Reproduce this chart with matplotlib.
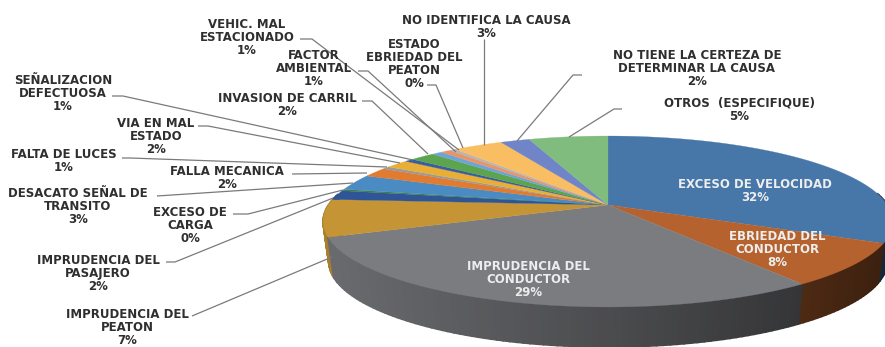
import numpy as np
import matplotlib
matplotlib.use("Agg")
import matplotlib.pyplot as plt
from matplotlib.colors import to_rgb

# ---- data (clockwise from 12 o'clock)
names = ["EXCESO DE VELOCIDAD", "EBRIEDAD DEL\nCONDUCTOR", "IMPRUDENCIA DEL\nCONDUCTOR",
         "IMPRUDENCIA DEL\nPEATON", "IMPRUDENCIA DEL\nPASAJERO", "EXCESO DE\nCARGA",
         "DESACATO SEÑAL DE\nTRANSITO", "FALLA MECANICA", "FALTA DE LUCES",
         "VIA EN MAL\nESTADO", "SEÑALIZACION\nDEFECTUOSA", "INVASION DE CARRIL",
         "VEHIC. MAL\nESTACIONADO", "FACTOR\nAMBIENTAL", "ESTADO\nEBRIEDAD DEL\nPEATON",
         "NO IDENTIFICA LA CAUSA", "NO TIENE LA CERTEZA DE\nDETERMINAR LA CAUSA",
         "OTROS  (ESPECIFIQUE)"]
values = [32.0, 8.0, 29.0, 7.0, 1.8, 0.3, 3.0, 1.8, 0.5, 1.6, 0.6, 1.7, 0.7, 0.7, 0.4, 3.4, 2.0, 5.4]
percent_labels = ["32%", "8%", "29%", "7%", "2%", "0%", "3%", "2%", "1%", "2%", "1%", "2%", "1%", "1%", "0%", "3%", "2%", "5%"]
colors = ["#4677A8", "#B5622E", "#7B7C80", "#C49435", "#2F5597", "#3B7F4C", "#4A8BC4", "#E07B30",
          "#9A9A9A", "#E8AE35", "#3A5CA0", "#5CA44E", "#6AA5D8", "#E8946A", "#B5B5B5", "#F9BE62",
          "#6F85C8", "#80BC7E"]

# ---- layout in pixels
W, H = 885, 347
HUB = (608.0, 205.0)
A, B, K = 279.6, 82.3, 0.193
DEPTH = 40.0
BOTTOM_SCALE = 0.98

# label position: (centre x, first line centre y, white?)
label_pos = [(755, 184, True), (777, 236, True), (528, 266, True), (127, 314, False), (98, 260, False),
             (190, 212, False), (78, 193, False), (227, 171, False), (64, 154, False), (156, 123, False),
             (63, 80, False), (287, 98, False), (247, 24, False), (314, 55, False), (414, 44, False),
             (486, 20, False), (697, 55, False), (739, 103, False)]
leaders = [None, None, None,
           [(192, 316), (332, 257)],
           [(166, 262), (175, 262), (333, 198)],
           [(233, 214), (248, 214), (343, 190)],
           [(157, 196), (353, 183)],
           [(292, 174), (367, 173)],
           [(122, 158), (130, 158), (387, 167)],
           [(198, 126), (208, 126), (400, 163)],
           [(112, 96), (123, 96), (413, 160)],
           [(362, 101), (372, 101), (428, 154)],
           [(300, 39), (312, 39), (459, 150)],
           [(358, 71), (368, 71), (456, 152)],
           [(427, 85), (436, 85), (463, 148)],
           [(484, 39), (484, 145)],
           [(582, 75), (573, 75), (517, 141)],
           [(622, 109), (614, 109), (569, 137)]]


def project(frac):
    """Fraction of the pie (clockwise from top) to pixel position, with perspective."""
    t = 2 * np.pi * np.asarray(frac)
    u, v = np.sin(t), np.cos(t)
    w = 1 + K * v
    return HUB[0] + A * u / w, HUB[1] - B * v / w


def side_factor(x):
    return np.interp(x, [330, 600, 800, 885], [0.86, 0.62, 0.43, 0.33])


fig = plt.figure(figsize=(W / 100, H / 100), dpi=100, facecolor="white")
ax = fig.add_axes([0, 0, 1, 1])
ax.set_xlim(0, W)
ax.set_ylim(H, 0)
ax.axis("off")
font = dict(family="DejaVu Sans", fontweight="bold", fontsize=8.5)

fr = np.array(values) / np.sum(values)
edges = np.concatenate([[0], np.cumsum(fr)])

# side wall: overlapping strips painted back to front so no seams show
strips = []
for i, col in enumerate(colors):
    n = max(2, int(fr[i] * 300))
    f = np.linspace(edges[i], edges[i + 1], n + 1)
    x, y = project(f)
    xb = HUB[0] + (x - HUB[0]) * BOTTOM_SCALE
    base = np.array(to_rgb(col))
    for j in range(n):
        if y[j] < HUB[1] - 10 and y[j + 1] < HUB[1] - 10:
            continue
        strips.append((min(y[j], y[j + 1]), x[j:j + 2], y[j:j + 2], xb[j:j + 2], base))
strips.sort(key=lambda s: s[0])
for _, x, y, xb, base in strips:
    c = tuple(base * side_factor(x.mean()))
    ax.fill([x[0], x[1], xb[1], xb[0]],
            [y[0], y[1], y[1] + DEPTH, y[0] + DEPTH],
            facecolor=c, edgecolor=c, lw=1.2, zorder=2)

# top face
for i, col in enumerate(colors):
    f = np.linspace(edges[i], edges[i + 1], max(3, int(fr[i] * 400)))
    x, y = project(f)
    ax.fill(np.r_[HUB[0], x], np.r_[HUB[1], y], color=col, lw=0.2, zorder=3)

# leaders
for pts in leaders:
    if pts:
        ax.plot(*zip(*pts), color="#7a7a7a", lw=0.9, zorder=4, solid_capstyle="butt")

# labels
for name, pct, (x, y, white) in zip(names, percent_labels, label_pos):
    lines = name.split("\n") + [pct]
    for k, line in enumerate(lines):
        ax.text(x, y + k * 13.2, line, ha="center", va="center",
                color="#EDEDED" if white else "#2f2f2f", zorder=5, **font)

fig.savefig("out.png", dpi=100, facecolor="white")
